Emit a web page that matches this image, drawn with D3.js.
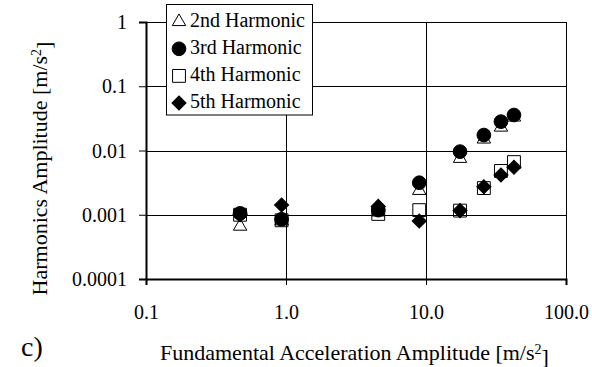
<!DOCTYPE html>
<html>
<head>
<meta charset="utf-8">
<script src="https://cdn.jsdelivr.net/npm/d3@7"></script>
<style>
  html, body { margin: 0; padding: 0; background: #fff; }
  svg { display: block; }
</style>
</head>
<body>
<svg id="chart" width="592" height="367"></svg>
<script>
// ---- data ----
const fundamental = [0.47, 0.93, 4.56, 8.95, 17.5, 25.9, 34.3, 42.5];
const harmonic2 = [0.00066, 0.0008, 0.0011, 0.00238, 0.0075, 0.015, 0.023, 0.033];
const harmonic3 = [0.00105, 0.00085, 0.00118, 0.00315, 0.0096, 0.0174, 0.0281, 0.0357];
const harmonic4 = [0.001, 0.00082, 0.00103, 0.00118, 0.00116, 0.0026, 0.0048, 0.0066];
const harmonic5 = [0.001, 0.00142, 0.00135, 0.0008, 0.00116, 0.00273, 0.00416, 0.00548];
const seriesNames = ["2nd Harmonic", "3rd Harmonic", "4th Harmonic", "5th Harmonic"];
const xTickValues = [0.1, 1, 10, 100];
const xTickLabels = ["0.1", "1.0", "10.0", "100.0"];
const yTickValues = [1, 0.1, 0.01, 0.001, 0.0001];
const yTickLabels = ["1", "0.1", "0.01", "0.001", "0.0001"];

const FONT = '"Liberation Serif", "Times New Roman", Times, serif';
const svg = d3.select("#chart");
const x = d3.scaleLog().domain([0.1, 100]).range([146, 566]);
const y = d3.scaleLog().domain([0.0001, 1]).range([279, 22]);

// gridlines
const grid = svg.append("g");
grid.selectAll("line.h").data(yTickValues).enter().append("line")
  .attr("x1", x(0.1)).attr("x2", x(100))
  .attr("y1", d => Math.round(y(d)) + 0.5).attr("y2", d => Math.round(y(d)) + 0.5)
  .attr("stroke", "#000").attr("stroke-width", 1);
grid.selectAll("line.v").data(xTickValues.slice(1)).enter().append("line")
  .attr("x1", d => Math.round(x(d)) + 0.5).attr("x2", d => Math.round(x(d)) + 0.5)
  .attr("y1", y(1)).attr("y2", y(0.0001))
  .attr("stroke", "#000").attr("stroke-width", 1);

// axes
const yAxis = d3.axisLeft(y).tickValues(yTickValues)
  .tickFormat((d, i) => yTickLabels[i]).tickSize(7).tickPadding(12);
const gy = svg.append("g").attr("transform", `translate(${x(0.1)},0)`).call(yAxis)
  .attr("font-family", FONT).attr("font-size", 20);
gy.select(".domain").attr("stroke-width", 2);
gy.selectAll("text").attr("dy", "0.33em").attr("fill", "#000");

const xAxis = d3.axisBottom(x).tickValues(xTickValues)
  .tickFormat((d, i) => xTickLabels[i]).tickSize(6).tickPadding(20);
const gx = svg.append("g").attr("transform", `translate(0,${y(0.0001)})`).call(xAxis)
  .attr("font-family", FONT).attr("font-size", 20);
gx.select(".domain").attr("stroke-width", 2);
gx.selectAll("text").attr("fill", "#000");

// markers
const sym = {
  tri: d3.symbol().type(d3.symbolTriangle).size(78),
  circ: d3.symbol().type(d3.symbolCircle).size(148),
  sq: d3.symbol().type(d3.symbolSquare).size(165),
  dia: d3.symbol().type(d3.symbolSquare).size(100)
};
const series = [
  { vals: harmonic2, path: sym.tri(), fill: "none", rot: 0 },
  { vals: harmonic3, path: sym.circ(), fill: "#000", rot: 0 },
  { vals: harmonic4, path: sym.sq(), fill: "none", rot: 0 },
  { vals: harmonic5, path: sym.dia(), fill: "#000", rot: 45 }
];
series.forEach(s => {
  svg.append("g").selectAll("path").data(fundamental).enter().append("path")
    .attr("d", s.path)
    .attr("transform", (d, i) => `translate(${x(d)},${y(s.vals[i])}) rotate(${s.rot})`)
    .attr("fill", s.fill).attr("stroke", "#000").attr("stroke-width", 1);
});

// legend
const lg = svg.append("g");
lg.append("rect").attr("x", 166.5).attr("y", 4.5).attr("width", 146).attr("height", 110.5)
  .attr("fill", "#fff").attr("stroke", "#000").attr("stroke-width", 1);
seriesNames.forEach((name, i) => {
  const base = 26.7 + i * 27.1;
  const s = series[i];
  lg.append("path").attr("d", s.path)
    .attr("transform", `translate(179,${base - 5}) rotate(${s.rot})`)
    .attr("fill", s.fill === "none" ? "#fff" : s.fill).attr("stroke", "#000");
  lg.append("text").attr("x", 190).attr("y", base)
    .attr("font-family", FONT).attr("font-size", 20).text(name);
});

// axis titles
const xt = svg.append("text").attr("x", 160).attr("y", 360)
  .attr("font-family", FONT).attr("font-size", 22);
xt.append("tspan").text("Fundamental Acceleration Amplitude [m/s");
xt.append("tspan").attr("dy", "-0.45em").attr("font-size", 14).text("2");
xt.append("tspan").attr("dy", "0.45em").text("]");

const yt = svg.append("text").attr("transform", "translate(47,168.5) rotate(-90)")
  .attr("text-anchor", "middle").attr("font-family", FONT).attr("font-size", 22);
yt.append("tspan").text("Harmonics Amplitude [m/s");
yt.append("tspan").attr("dy", "-0.45em").attr("font-size", 14).text("2");
yt.append("tspan").attr("dy", "0.45em").text("]");

svg.append("text").attr("x", 21).attr("y", 356)
  .attr("font-family", FONT).attr("font-size", 28).text("c)");
</script>
</body>
</html>
